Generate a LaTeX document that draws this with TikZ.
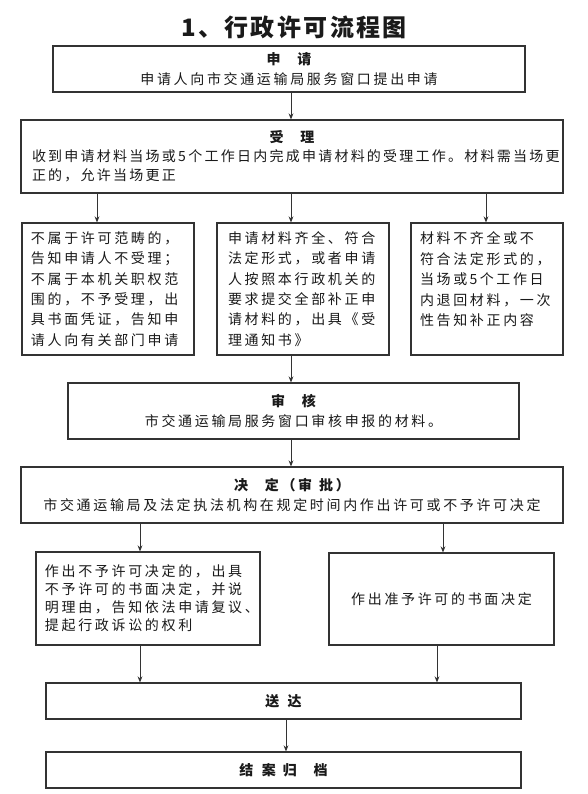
\documentclass[tikz,border=0pt]{standalone}
\usepackage{fontspec}
\setmainfont{Noto Sans CJK SC}
\newfontfamily\bodyfont[LetterSpace=19]{Noto Sans CJK SC}
\newfontfamily\tightfont[LetterSpace=16]{Noto Sans CJK SC}
\newfontfamily\titlefont[LetterSpace=10]{Noto Sans CJK SC}
\usetikzlibrary{arrows.meta}
\definecolor{linec}{HTML}{333333}
\definecolor{txtc}{HTML}{1A1A1A}
\begin{document}
\begin{tikzpicture}[x=0.75pt,y=-0.75pt,
  box/.style={draw=linec, line width=0.9pt, rectangle, inner sep=0pt, text=txtc,
    font=\bodyfont\fontsize{10.5}{15}\selectfont},
  arr/.style={draw=linec, line width=0.7pt, -{Stealth[length=4.5pt,width=3.6pt]}},
  ttl/.style={font=\titlefont\bfseries\fontsize{18}{22}\selectfont, text=txtc, inner sep=0pt}]
\useasboundingbox (0,0) rectangle (587,794);
\fill[white] (0,0) rectangle (587,794);

\node[ttl] (title) at (294,27) {1、行政许可流程图};

\node[box, minimum width=472*0.75pt, minimum height=46*0.75pt, align=center] (b1) at (289,69)
  {{\bfseries 申\hspace{1.2em}请}\\申请人向市交通运输局服务窗口提出申请};

\node[box, minimum width=542*0.75pt, minimum height=73*0.75pt, text width=520*0.75pt, align=left,
  font=\tightfont\fontsize{10.5}{14.25}\selectfont] (b2) at (292,156.5)
  {\makebox[390pt]{\bfseries 受\hspace{1.2em}理}\\收到申请材料当场或\,5\,个工作日内完成申请材料的受理工作。材料需当场更\\正的，允许当场更正};

\node[box, minimum width=172*0.75pt, minimum height=132*0.75pt, text width=154*0.75pt, align=left,
  font=\bodyfont\fontsize{10.5}{15.3}\selectfont] (b3a) at (108,289)
  {不属于许可范畴的，\\告知申请人不受理；\\不属于本机关职权范\\围的，不予受理，出\\具书面凭证，告知申\\请人向有关部门申请};

\node[box, minimum width=172*0.75pt, minimum height=132*0.75pt, text width=150*0.75pt, align=left,
  font=\bodyfont\fontsize{10.5}{15.3}\selectfont] (b3b) at (303,289)
  {申请材料齐全、符合\\法定形式，或者申请\\人按照本行政机关的\\要求提交全部补正申\\请材料的，出具《受\\理通知书》};

\node[box, minimum width=152*0.75pt, minimum height=132*0.75pt, text width=134*0.75pt, align=left,
  font=\bodyfont\fontsize{10.5}{15.3}\selectfont] (b3c) at (487,289)
  {材料不齐全或不\\符合法定形式的，\\当场或\,5\,个工作日\\内退回材料，一次\\性告知补正内容\\\mbox{}};

\node[box, minimum width=451*0.75pt, minimum height=56*0.75pt, align=center] (b4) at (293.5,411)
  {{\bfseries 审\hspace{1.2em}核}\\市交通运输局服务窗口审核申报的材料。};

\node[box, minimum width=542*0.75pt, minimum height=56*0.75pt, align=center] (b5) at (292,495)
  {{\bfseries 决\hspace{1.2em}定（审\hspace{0.5em}批）}\\市交通运输局及法定执法机构在规定时间内作出许可或不予许可决定};

\node[box, minimum width=224*0.75pt, minimum height=93*0.75pt, text width=206*0.75pt, align=left,
  font=\bodyfont\fontsize{10.5}{13.5}\selectfont] (b6a) at (148,598.5)
  {作出不予许可决定的，出具\\不予许可的书面决定，并说\\明理由，告知依法申请复议、\\提起行政诉讼的权利};

\node[box, minimum width=225*0.75pt, minimum height=92*0.75pt, align=center] (b6b) at (441.5,599)
  {作出准予许可的书面决定};

\node[box, minimum width=475*0.75pt, minimum height=36*0.75pt, align=center] (b7) at (283.5,701)
  {\bfseries 送\hspace{0.6em}达};

\node[box, minimum width=475*0.75pt, minimum height=36*0.75pt, align=center] (b8) at (283.5,770)
  {\bfseries 结\hspace{0.6em}案\hspace{0.5em}归\hspace{1.2em}档};

\coordinate (x97) at (97,0);
\coordinate (x291) at (291,0);
\coordinate (x486) at (486,0);
\coordinate (x140) at (140,0);
\coordinate (x443) at (443,0);
\coordinate (x437) at (437,0);
\coordinate (x286) at (286,0);

\draw[arr] (b1.south -| x291) -- (b2.north -| x291);
\draw[arr] (b2.south -| x97) -- (b3a.north -| x97);
\draw[arr] (b2.south -| x291) -- (b3b.north -| x291);
\draw[arr] (b2.south -| x486) -- (b3c.north -| x486);
\draw[arr] (b3b.south -| x291) -- (b4.north -| x291);
\draw[arr] (b4.south -| x291) -- (b5.north -| x291);
\draw[arr] (b5.south -| x140) -- (b6a.north -| x140);
\draw[arr] (b5.south -| x443) -- (b6b.north -| x443);
\draw[arr] (b6a.south -| x140) -- (b7.north -| x140);
\draw[arr] (b6b.south -| x437) -- (b7.north -| x437);
\draw[arr] (b7.south -| x286) -- (b8.north -| x286);
\end{tikzpicture}
\end{document}
